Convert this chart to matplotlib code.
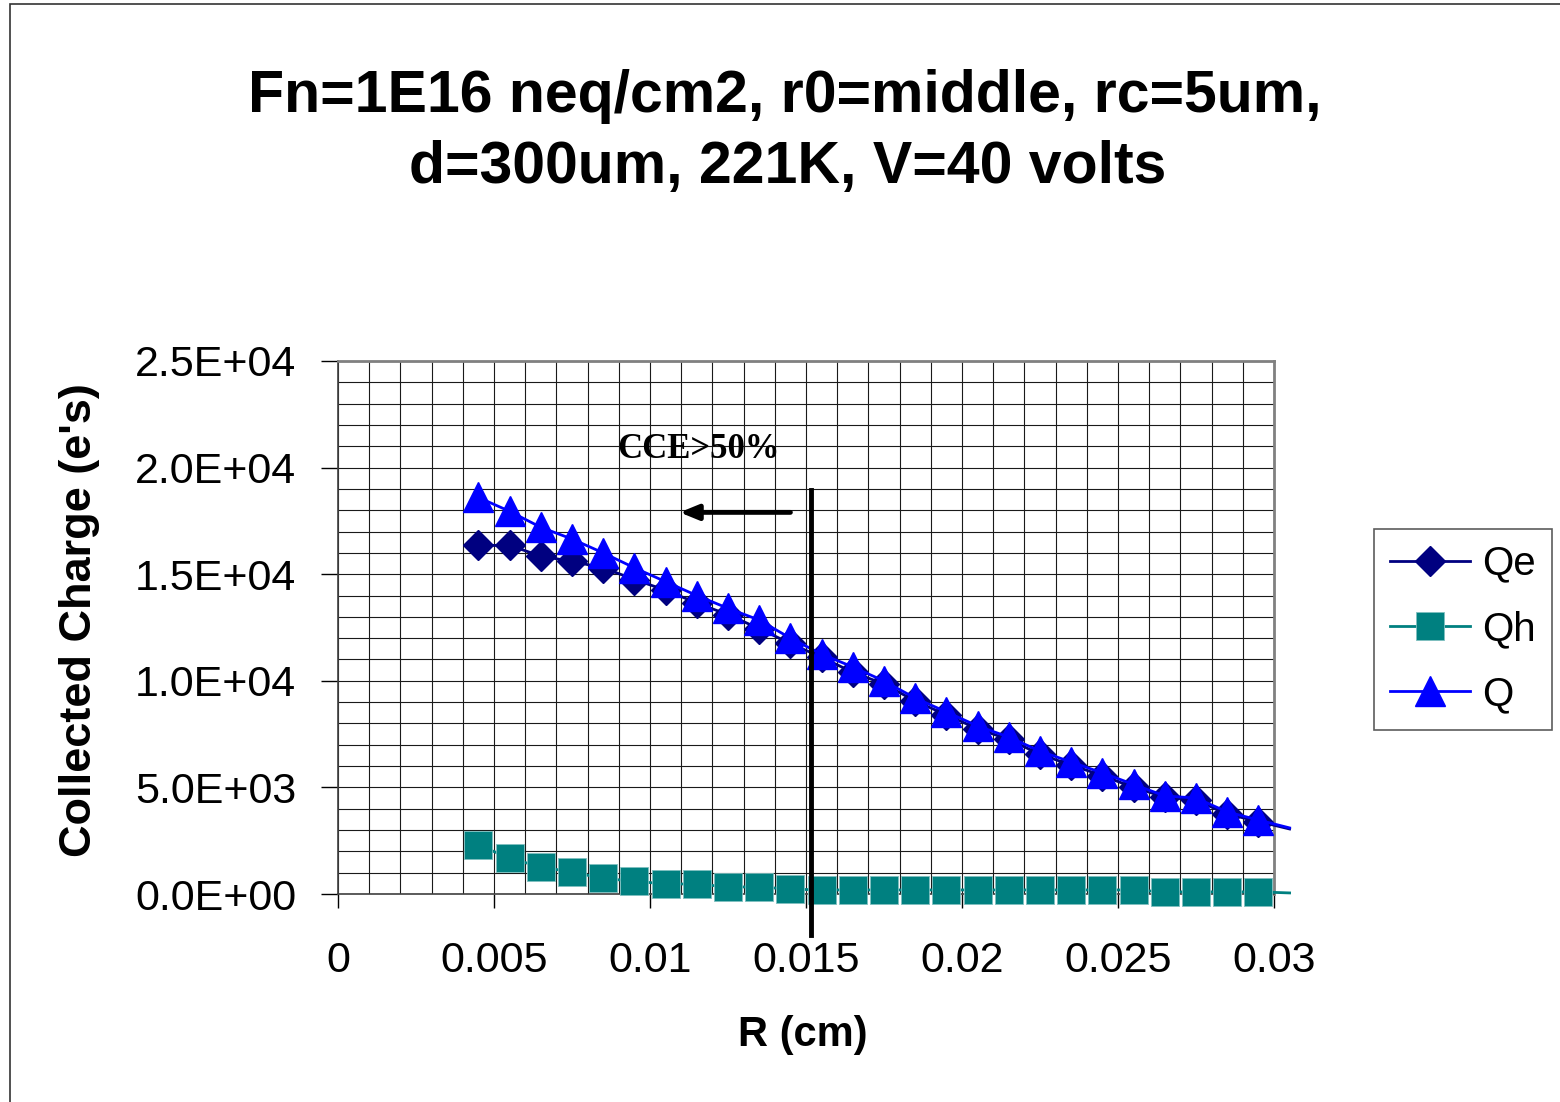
import matplotlib
matplotlib.use('Agg')
import matplotlib.pyplot as plt
from matplotlib.patches import Rectangle

# Data (R in cm, charge in electrons)
r_cm = [0.0045, 0.0055, 0.0065, 0.0075, 0.0085, 0.0095, 0.0105, 0.0115, 0.0125,
        0.0135, 0.0145, 0.0155, 0.0165, 0.0175, 0.0185, 0.0195, 0.0205, 0.0215,
        0.0225, 0.0235, 0.0245, 0.0255, 0.0265, 0.0275, 0.0285, 0.0295, 0.0305]
qe = [16350, 16350, 15850, 15600, 15300, 14750, 14250, 13650, 13100,
      12450, 11750, 11100, 10400, 9850, 9050, 8400, 7750, 7250,
      6550, 6050, 5550, 5000, 4550, 4400, 3750, 3400, 3050]
qh = [2300, 1680, 1270, 1030, 730, 600, 470, 470, 330,
      330, 230, 190, 190, 190, 190, 190, 190, 190,
      190, 190, 190, 190, 100, 100, 100, 100, 50]
q = [18600, 17950, 17200, 16650, 16000, 15300, 14650, 14000, 13400,
     12850, 12000, 11250, 10650, 9990, 9190, 8540, 7880, 7360,
     6700, 6190, 5680, 5140, 4600, 4500, 3850, 3470, 3100]

x_ticks = [0, 0.005, 0.01, 0.015, 0.02, 0.025, 0.03]
x_tick_labels = ['0', '0.005', '0.01', '0.015', '0.02', '0.025', '0.03']
y_ticks = [0, 5000, 10000, 15000, 20000, 25000]
y_tick_labels = ['0.0E+00', '5.0E+03', '1.0E+04', '1.5E+04', '2.0E+04', '2.5E+04']

# CCE>50% marker: vertical line and arrow
cut_r = 0.01515
cut_y = [-1900, 18950]
arrow_start = (0.0145, 17900)
arrow_end = (0.01095, 17900)

sans = 'Liberation Sans'
serif = 'Liberation Serif'

fig = plt.figure(figsize=(15.6, 11.02), dpi=100)
fig.set_facecolor('white')

# Outer chart border
fig.patches.append(Rectangle((10 / 1560, -0.05), 1.2, 1.05 - 4 / 1102,
                             transform=fig.transFigure, fill=False,
                             edgecolor='#333333', linewidth=1.2))

ax = fig.add_axes([338 / 1560, 208 / 1102, 936 / 1560, 533 / 1102])

ax.set_xlim(0, 0.03)
ax.set_ylim(0, 25000)

# Grid every 0.001 cm and 1000 e
ax.set_xticks([i * 0.001 for i in range(31)], minor=True)
ax.set_yticks([i * 1000 for i in range(26)], minor=True)
ax.set_xticks(x_ticks)
ax.set_xticklabels(x_tick_labels, fontname=sans, fontsize=31)
ax.set_yticks(y_ticks)
ax.set_yticklabels(y_tick_labels, fontname=sans, fontsize=31)
ax.grid(which='both', color='#1a1a1a', linewidth=0.8)
ax.tick_params(axis='x', which='minor', length=0)
ax.tick_params(axis='y', which='minor', length=0)
ax.tick_params(axis='x', which='major', length=10, width=1, pad=24)
ax.tick_params(axis='y', which='major', length=12, width=1, pad=18)
ax.set_axisbelow(True)

for side in ['top', 'right']:
    ax.spines[side].set_color('#808080')
    ax.spines[side].set_linewidth(2)
for side in ['left', 'bottom']:
    ax.spines[side].set_color('#404040')
    ax.spines[side].set_linewidth(1.2)

# Series (the last point lies past the axis edge, drawn without marker)
marks = slice(0, len(r_cm) - 1)
ax.plot(r_cm, qe, color='#000080', linewidth=2, marker='D', markersize=15.5,
        markevery=marks, clip_on=False, label='Qe', zorder=3)
ax.plot(r_cm, qh, color='#008080', linewidth=2, marker='s', markersize=19.5,
        markeredgecolor='#7fc0c0', markeredgewidth=0.6,
        markevery=marks, clip_on=False, label='Qh', zorder=3)
ax.plot(r_cm, q, color='#0000ff', linewidth=2, marker='^', markersize=22,
        markevery=marks, clip_on=False, label='Q', zorder=4)

# CCE>50% annotation
ax.plot([cut_r, cut_r], cut_y, color='black', linewidth=3.5, clip_on=False, zorder=5)
ax.annotate('', xy=arrow_end, xytext=arrow_start,
            arrowprops=dict(arrowstyle='-|>,head_length=1.1,head_width=0.45',
                            color='black', linewidth=3.5, shrinkA=0, shrinkB=0),
            zorder=5)
ax.text(0.01155, 20850, 'CCE>50%', fontname=serif, fontweight='bold',
        fontsize=25, ha='center', va='center', zorder=5)

# Title and labels
fig.text(0.503, 1 - 96 / 1102, 'Fn=1E16 neq/cm2, r0=middle, rc=5um,',
         fontname=sans, fontweight='bold', fontsize=42.5, ha='center', va='center')
fig.text(0.505, 1 - 168 / 1102, 'd=300um, 221K, V=40 volts',
         fontname=sans, fontweight='bold', fontsize=42.5, ha='center', va='center')
fig.text(803 / 1560, 1 - 1035 / 1102, 'R (cm)', fontname=sans, fontweight='bold',
         fontsize=30, ha='center', va='center')
fig.text(80 / 1560, 1 - 620 / 1102, "Collected Charge (e's)", fontname=sans,
         fontweight='bold', fontsize=32.5, ha='center', va='center', rotation=90)

leg = fig.legend(loc='center', bbox_to_anchor=(1463 / 1560, 1 - 629 / 1102),
                 prop={'family': sans, 'size': 29}, frameon=True, fancybox=False,
                 edgecolor='#333333', handlelength=2.0, handletextpad=0.3,
                 labelspacing=0.68, borderpad=0.4, borderaxespad=0)
leg.get_frame().set_linewidth(1.2)

fig.savefig('out.png', dpi=100, facecolor='white')
